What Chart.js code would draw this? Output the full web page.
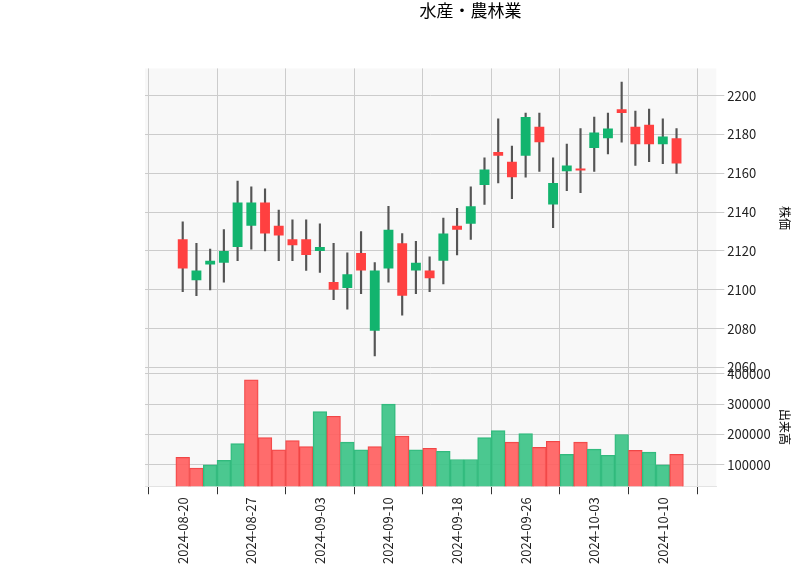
<!DOCTYPE html>
<html><head><meta charset="utf-8">
<script src="https://cdn.jsdelivr.net/npm/chart.js@4.4.1/dist/chart.umd.min.js"></script>
<style>html,body{margin:0;padding:0;background:#fff}#w{width:800px;height:575px}</style>
</head><body><div id="w"><canvas id="c"></canvas></div>
<script>
const dates = ["2024-08-20","2024-08-21","2024-08-22","2024-08-23","2024-08-26","2024-08-27","2024-08-28","2024-08-29","2024-08-30","2024-09-02","2024-09-03","2024-09-04","2024-09-05","2024-09-06","2024-09-09","2024-09-10","2024-09-11","2024-09-12","2024-09-13","2024-09-17","2024-09-18","2024-09-19","2024-09-20","2024-09-24","2024-09-25","2024-09-26","2024-09-27","2024-09-30","2024-10-01","2024-10-02","2024-10-03","2024-10-04","2024-10-07","2024-10-08","2024-10-09","2024-10-10","2024-10-11"];
const openP  = [2126,2105,2113,2114,2122,2133,2145,2133,2126,2126,2120,2104,2101,2119,2079,2111,2124,2110,2110,2115,2133,2134,2154,2171,2166,2169,2184,2144,2161,2162.5,2173,2178,2193,2184,2185,2175,2178];
const closeP = [2111,2110,2115,2120,2145,2145,2129,2128,2123,2118,2122,2100,2108,2110,2110,2131,2097,2114,2106,2129,2131,2143,2162,2169,2158,2189,2176,2155,2164,2161.5,2181,2183,2191,2175,2175,2179,2165];
const highP  = [2135,2124,2121,2131,2156,2153,2152,2141,2136,2136,2134,2124,2119,2130,2114,2143,2129,2125,2117,2137,2142,2153,2168,2188,2174,2191,2191,2168,2175,2183,2189,2191,2207,2192,2193,2188,2183];
const lowP   = [2099,2097,2100,2104,2115,2121,2120,2115,2115,2110,2109,2095,2090,2098,2066,2104,2087,2098,2099,2103,2118,2126,2144,2155,2147,2158,2161,2132,2151,2150,2161,2170,2176,2164,2166,2165,2160];
const volume = [125000,90000,100000,115000,170000,380000,190000,150000,180000,160000,275000,260000,175000,150000,160000,300000,195000,150000,155000,145000,118000,118000,190000,213000,175000,203000,158000,178000,135000,175000,152000,132000,200000,148000,142000,100000,135000];
const volUp  = [0,0,1,1,1,0,0,0,0,0,1,0,1,1,0,1,0,1,0,1,1,1,1,1,0,1,0,0,1,0,1,1,1,0,1,1,0];
const tickDates = ["2024-08-20","2024-08-27","2024-09-03","2024-09-10","2024-09-18","2024-09-26","2024-10-03","2024-10-10"];

const UP='rgb(18,180,110)', DN='rgb(255,64,64)';
const bodyCol = openP.map((o,i)=> closeP[i]>=o ? UP : DN);
const font = {family:'"Noto Sans CJK JP", "DejaVu Sans", sans-serif', size:12};
const bgPlugin = {id:'bg', beforeDraw(ch){const c=ch.ctx;c.save();c.fillStyle='#f8f8f8';
  const x=ch.scales.x, y1=ch.scales.y, y2=ch.scales.yv;
  c.fillRect(x.left,y1.top,x.right-x.left,y1.bottom-y1.top);
  c.fillRect(x.left,y2.top,x.right-x.left,y2.bottom-y2.top);c.restore();}};
const tickIdx = tickDates.map(d=>dates.indexOf(d));
new Chart(document.getElementById('c'),{
  type:'bar',
  data:{datasets:[
    {label:'wick',data:dates.map((d,i)=>({x:i,y:[lowP[i],highP[i]]})),yAxisID:'y',grouped:false,backgroundColor:'#555',barThickness:1.5,order:2},
    {label:'body',data:dates.map((d,i)=>({x:i,y:[openP[i],closeP[i]]})),yAxisID:'y',grouped:false,backgroundColor:bodyCol,borderWidth:0,barPercentage:0.72,categoryPercentage:1,order:1},
    {label:'vol',data:dates.map((d,i)=>({x:i,y:volume[i]})),yAxisID:'yv',grouped:false,backgroundColor:volUp.map(u=>u?'rgba(60,195,135,0.92)':'rgba(255,95,95,0.92)'),borderColor:volUp.map(u=>u?'rgb(50,185,125)':'rgb(240,70,70)'),borderWidth:1,barPercentage:1,categoryPercentage:1}
  ]},
  options:{responsive:true,maintainAspectRatio:false,animation:false,parsing:true,
    layout:{padding:{left:145,right:4,top:0,bottom:8}},
    plugins:{legend:{display:false},tooltip:{enabled:false},
      title:{display:true,text:'水産・農林業',color:'#000',font:{...font,size:17,weight:'normal'},padding:{top:0,bottom:48}}},
    scales:{
      x:{type:'linear',offset:false,min:-2.75,max:38.9,grid:{color:'#cccccc',tickColor:'#333'},
        afterBuildTicks(s){s.ticks=tickIdx.map(v=>({value:v}));},
        ticks:{autoSkip:false,maxRotation:90,minRotation:90,color:'#222',font:{...font,size:13},callback:v=>dates[v]||''}},
      y:{position:'right',stack:'s',stackWeight:2.52,min:2060,max:2214,
        grid:{color:'#cccccc'},border:{display:false},
        afterBuildTicks(s){s.ticks=[2060,2080,2100,2120,2140,2160,2180,2200].map(v=>({value:v}));},
        ticks:{color:'#222',font:{...font,size:13},callback:v=>String(v)},
        title:{display:true,text:'株価',color:'#000',font}},
      yv:{position:'right',stack:'s',stackWeight:1,min:30000,max:420000,
        grid:{color:'#cccccc'},border:{display:false},
        afterBuildTicks(s){s.ticks=[100000,200000,300000,400000].map(v=>({value:v}));},
        ticks:{color:'#222',font:{...font,size:13},callback:v=>String(v)},
        title:{display:true,text:'出来高',color:'#000',font}}
    }},
  plugins:[bgPlugin]
});
</script></body></html>
